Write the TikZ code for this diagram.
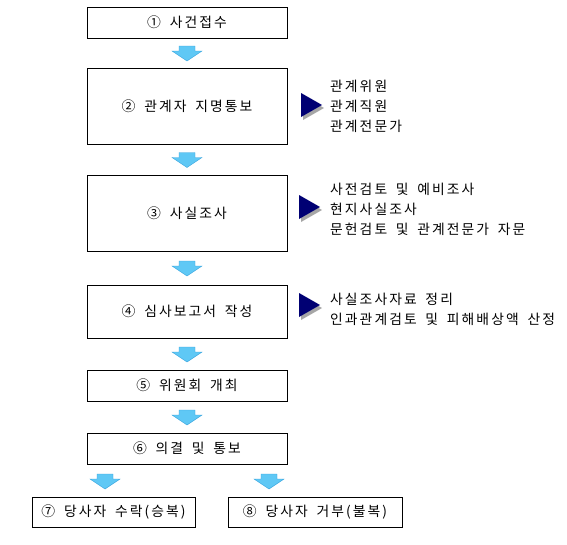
\documentclass[tikz,border=0pt]{standalone}
\usepackage{fontspec}
\setmainfont[LetterSpace=15,WordSpace=1.7]{Noto Sans CJK KR}
\usepackage{tikz}
\usetikzlibrary{calc,shapes.geometric,shadows}

\definecolor{arrowline}{RGB}{50,160,220}
\definecolor{arrowedge}{RGB}{95,200,245}
\definecolor{arrowmid}{RGB}{195,244,255}
\definecolor{pointer}{RGB}{0,0,115}

\tikzset{
  stepbox/.style={draw=black, line width=.7pt, fill=white, inner sep=0pt},
  blockarrow/.style={draw=arrowline, line width=.4pt, left color=arrowedge, middle color=arrowmid, right color=arrowedge},
  pointerhead/.style={isosceles triangle, isosceles triangle stretches, minimum width=24pt, minimum height=21pt, inner sep=0pt, fill=pointer, drop shadow={shadow xshift=2pt, shadow yshift=-3pt, fill=gray!70, opacity=1}},
  sidetext/.style={anchor=west, align=left, inner sep=0pt, font=\fontsize{13.8}{20}\selectfont}
}

\newcommand{\flowarrow}[1]{%
  \draw[blockarrow, shift={#1}] (-8,-7) -- (8,-7) -- (8,-2) -- (15,-2) -- (0,8) -- (-15,-2) -- (-8,-2) -- cycle;}

\begin{document}
\begin{tikzpicture}[x=1pt, y=-1pt, font=\fontsize{13.8}{15}\selectfont]
	\useasboundingbox (0,0) rectangle (567,544);
	% main steps
	\node[stepbox, minimum width=200pt, minimum height=31pt] (b1) at (187,22.5) {① 사건접수};
	\node[stepbox, minimum width=200pt, minimum height=76pt] (b2) at (187,106) {② 관계자 지명통보};
	\node[stepbox, minimum width=200pt, minimum height=76pt] (b3) at (187,213) {③ 사실조사};
	\node[stepbox, minimum width=200pt, minimum height=53pt] (b4) at (187,311.5) {④ 심사보고서 작성};
	\node[stepbox, minimum width=200pt, minimum height=31pt] (b5) at (187,385.5) {⑤ 위원회 개최};
	\node[stepbox, minimum width=200pt, minimum height=31pt] (b6) at (187,448.5) {⑥ 의결 및 통보};
	\node[stepbox, minimum width=163pt, minimum height=30pt] (b7) at (113.5,512) {⑦ 당사자 수락(승복)};
	\node[stepbox, minimum width=174pt, minimum height=30pt] (b8) at (315,512) {⑧ 당사자 거부(불복)};
	% arrows between steps
	\flowarrow{($(b1.south)!.5!(b2.north)$)}
	\flowarrow{($(b2.south)!.5!(b3.north)$)}
	\flowarrow{($(b3.south)!.5!(b4.north)$)}
	\flowarrow{($(b4.south)!.5!(b5.north)$)}
	\flowarrow{($(b5.south)!.5!(b6.north)$)}
	\flowarrow{(105,481)}
	\flowarrow{(269,481)}
	% side notes
	\node[pointerhead] (t2) at (308,105) {};
	\node[pointerhead] (t3) at (306,207) {};
	\node[pointerhead] (t4) at (306,305) {};
	\node[sidetext] (n2) at (330,106) {관계위원\\관계직원\\관계전문가};
	\node[sidetext] (n3) at (330,209) {사전검토 및 예비조사\\현지사실조사\\문헌검토 및 관계전문가 자문};
	\node[sidetext] (n4) at (330,309.5) {사실조사자료 정리\\인과관계검토 및 피해배상액 산정};
\end{tikzpicture}
\end{document}
